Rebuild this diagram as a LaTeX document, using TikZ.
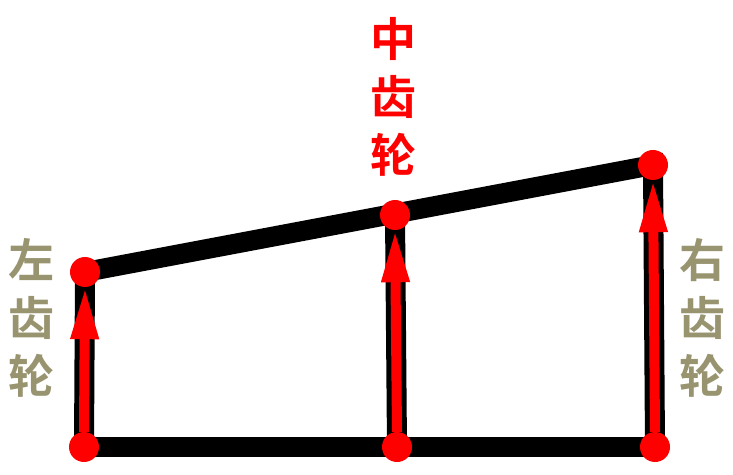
\documentclass[tikz,border=0pt]{standalone}
\usepackage{fontspec}
\newfontfamily\cjk{Noto Sans CJK SC}[BoldFont={Noto Sans CJK SC Bold}]
\usetikzlibrary{arrows.meta}
\definecolor{gearolive}{RGB}{153,148,112}

\begin{document}
\begin{tikzpicture}[x=1pt, y=1pt, >={Triangle[width=26pt,length=52pt]},
  dot/.style={circle, inner sep=0pt, minimum size=30pt},
  bar/.style={line width=20pt, black},
  push/.style={->, line width=10pt, red},
  gear/.style={font=\cjk\bfseries\fontsize{46}{58}\selectfont, align=center}]

\useasboundingbox (0,0) rectangle (733,474);

% ============================
% Gear points
% ============================
\node[dot] (Lbot) at (84,27)  {};
\node[dot] (Ltop) at (85,202) {};
\node[dot] (Mbot) at (397,27) {};
\node[dot] (Mtop) at (395,259) {};
\node[dot] (Rbot) at (655,27) {};
\node[dot] (Rtop) at (653,309) {};

% ============================
% Black frame
% ============================
\draw[bar] (Lbot.center) -- (Rbot.center);
\draw[bar] (Lbot.center) -- (Ltop.center) -- (Rtop.center) -- (Rbot.center);
\draw[bar] (Mbot.center) -- (Mtop.center);

% ============================
% Red arrows (upwards)
% ============================
\draw[push] (Lbot.north) -- (Ltop.south);
\draw[push] (Mbot.north) -- (Mtop.south);
\draw[push] (Rbot.north) -- (Rtop.south);

% Red dots on top
\foreach \p in {Lbot,Ltop,Mbot,Mtop,Rbot,Rtop}
  \fill[red] (\p) circle (15pt);

% ============================
% Labels
% ============================
\node[gear, text=red]       (midlabel)   at (393,377) {中\\齿\\轮};
\node[gear, text=gearolive] (leftlabel)  at (32,156)  {左\\齿\\轮};
\node[gear, text=gearolive] (rightlabel) at (702,156) {右\\齿\\轮};

\end{tikzpicture}
\end{document}
